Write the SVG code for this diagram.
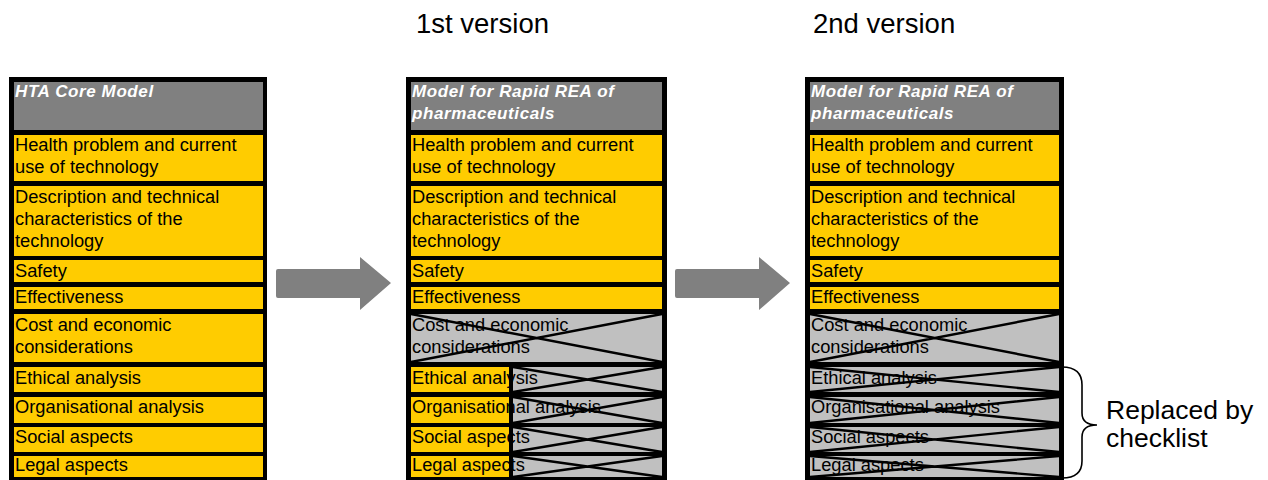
<svg xmlns="http://www.w3.org/2000/svg" width="1268" height="480" viewBox="0 0 1268 480">
<style>
.bg{fill:#000}
.y{fill:#FFCC00}
.g{fill:#C0C0C0}
.hd{fill:#808080}
.t{font-family:"Liberation Sans",Arial,sans-serif;font-size:18.3px;fill:#000}
.h{font-family:"Liberation Sans",Arial,sans-serif;font-size:17px;letter-spacing:0.6px;font-weight:bold;font-style:italic;fill:#fff}
.ti{font-family:"Liberation Sans",Arial,sans-serif;font-size:27.5px;fill:#000}
.nt{font-family:"Liberation Sans",Arial,sans-serif;font-size:26.5px;fill:#000}
.x{stroke:#000;stroke-width:2.4;fill:none}
.arr{fill:#808080}
.br{stroke:#000;stroke-width:1.6;fill:none}
</style>
<rect width="1268" height="480" fill="#fff"/>
<text class="ti" x="416" y="33">1st version</text>
<text class="ti" x="813" y="33">2nd version</text>

<g id="table-hta">
<rect class="bg" x="9" y="77" width="258" height="403"/>
<rect class="hd" x="14" y="82" width="249" height="48"/>
<rect class="y" x="14" y="135" width="249" height="46"/>
<rect class="y" x="14" y="186" width="249" height="70"/>
<rect class="y" x="14" y="260" width="249" height="22"/>
<rect class="y" x="14" y="287" width="249" height="22"/>
<rect class="y" x="14" y="314" width="249" height="48"/>
<rect class="y" x="14" y="367" width="249" height="25"/>
<rect class="y" x="14" y="397" width="249" height="26"/>
<rect class="y" x="14" y="427" width="249" height="25"/>
<rect class="y" x="14" y="456" width="249" height="21"/>
<text class="h" x="15" y="97">HTA Core Model</text>
<text class="t" x="15" y="151">Health problem and current</text>
<text class="t" x="15" y="173">use of technology</text>
<text class="t" x="15" y="203">Description and technical</text>
<text class="t" x="15" y="225">characteristics of the</text>
<text class="t" x="15" y="247">technology</text>
<text class="t" x="15" y="277">Safety</text>
<text class="t" x="15" y="303">Effectiveness</text>
<text class="t" x="15" y="331">Cost and economic</text>
<text class="t" x="15" y="353">considerations</text>
<text class="t" x="15" y="384">Ethical analysis</text>
<text class="t" x="15" y="413">Organisational analysis</text>
<text class="t" x="15" y="443">Social aspects</text>
<text class="t" x="15" y="471">Legal aspects</text>
</g>

<g id="table-v1">
<rect class="bg" x="406" y="77" width="261" height="403"/>
<rect class="hd" x="411" y="82" width="251" height="48"/>
<rect class="y" x="411" y="135" width="251" height="46"/>
<rect class="y" x="411" y="186" width="251" height="70"/>
<rect class="y" x="411" y="260" width="251" height="22"/>
<rect class="y" x="411" y="287" width="251" height="22"/>
<rect class="g" x="411" y="314" width="251" height="48"/>
<rect class="y" x="411" y="367" width="98" height="25"/>
<rect class="g" x="513" y="367" width="149" height="25"/>
<rect class="y" x="411" y="397" width="98" height="26"/>
<rect class="g" x="513" y="397" width="149" height="26"/>
<rect class="y" x="411" y="427" width="98" height="25"/>
<rect class="g" x="513" y="427" width="149" height="25"/>
<rect class="y" x="411" y="456" width="98" height="21"/>
<rect class="g" x="513" y="456" width="149" height="21"/>
<text class="h" x="412" y="97">Model for Rapid REA of</text>
<text class="h" x="412" y="119">pharmaceuticals</text>
<text class="t" x="412" y="151">Health problem and current</text>
<text class="t" x="412" y="173">use of technology</text>
<text class="t" x="412" y="203">Description and technical</text>
<text class="t" x="412" y="225">characteristics of the</text>
<text class="t" x="412" y="247">technology</text>
<text class="t" x="412" y="277">Safety</text>
<text class="t" x="412" y="303">Effectiveness</text>
<text class="t" x="412" y="331">Cost and economic</text>
<text class="t" x="412" y="353">considerations</text>
<text class="t" x="412" y="384">Ethical analysis</text>
<text class="t" x="412" y="413">Organisational analysis</text>
<text class="t" x="412" y="443">Social aspects</text>
<text class="t" x="412" y="471">Legal aspects</text>
<path class="x" d="M411,314 L662,362 M411,362 L662,314"/>
<path class="x" d="M513,367 L662,392 M513,392 L662,367"/>
<path class="x" d="M513,397 L662,423 M513,423 L662,397"/>
<path class="x" d="M513,427 L662,452 M513,452 L662,427"/>
<path class="x" d="M513,456 L662,477 M513,477 L662,456"/>
</g>

<g id="table-v2">
<rect class="bg" x="805" y="77" width="259" height="403"/>
<rect class="hd" x="810" y="82" width="249" height="48"/>
<rect class="y" x="810" y="135" width="249" height="46"/>
<rect class="y" x="810" y="186" width="249" height="70"/>
<rect class="y" x="810" y="260" width="249" height="22"/>
<rect class="y" x="810" y="287" width="249" height="22"/>
<rect class="g" x="810" y="314" width="249" height="48"/>
<rect class="g" x="810" y="367" width="249" height="25"/>
<rect class="g" x="810" y="397" width="249" height="26"/>
<rect class="g" x="810" y="427" width="249" height="25"/>
<rect class="g" x="810" y="456" width="249" height="21"/>
<text class="h" x="811" y="97">Model for Rapid REA of</text>
<text class="h" x="811" y="119">pharmaceuticals</text>
<text class="t" x="811" y="151">Health problem and current</text>
<text class="t" x="811" y="173">use of technology</text>
<text class="t" x="811" y="203">Description and technical</text>
<text class="t" x="811" y="225">characteristics of the</text>
<text class="t" x="811" y="247">technology</text>
<text class="t" x="811" y="277">Safety</text>
<text class="t" x="811" y="303">Effectiveness</text>
<text class="t" x="811" y="331">Cost and economic</text>
<text class="t" x="811" y="353">considerations</text>
<text class="t" x="811" y="384">Ethical analysis</text>
<text class="t" x="811" y="413">Organisational analysis</text>
<text class="t" x="811" y="443">Social aspects</text>
<text class="t" x="811" y="471">Legal aspects</text>
<path class="x" d="M810,314 L1059,362 M810,362 L1059,314"/>
<path class="x" d="M810,367 L1059,392 M810,392 L1059,367"/>
<path class="x" d="M810,397 L1059,423 M810,423 L1059,397"/>
<path class="x" d="M810,427 L1059,452 M810,452 L1059,427"/>
<path class="x" d="M810,456 L1059,477 M810,477 L1059,456"/>
</g>

<g id="connectors">
<path class="arr" d="M278,269 L360,269 L360,257 L391,283 L360,310 L360,298 L278,298 Q276,298 276,296 L276,271 Q276,269 278,269 Z"/>
<path class="arr" d="M677,269 L759,269 L759,257 L790,283 L759,310 L759,298 L677,298 Q675,298 675,296 L675,271 Q675,269 677,269 Z"/>
</g>

<g id="note">
<path class="br" d="M1062,367 Q1082,367 1082,385 L1082,413 Q1082,425 1097,425 Q1082,425 1082,437 L1082,461 Q1082,478 1062,478"/>
<text class="nt" x="1106" y="419">Replaced by</text>
<text class="nt" x="1106" y="447">checklist</text>
</g>
</svg>
